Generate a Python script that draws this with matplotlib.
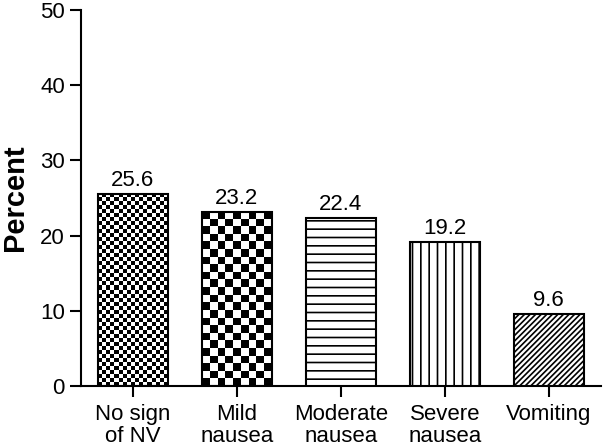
#!/usr/bin/env python3
"""Nausea/vomiting severity distribution, patterned bar chart."""

import numpy as np
import matplotlib
matplotlib.use("Agg")
import matplotlib.pyplot as plt

categories = ["No sign\nof NV", "Mild\nnausea", "Moderate\nnausea", "Severe\nnausea", "Vomiting"]
percent = [25.6, 23.2, 22.4, 19.2, 9.6]
value_labels = ["25.6", "23.2", "22.4", "19.2", "9.6"]
y_ticks = [0, 10, 20, 30, 40, 50]

plt.rcParams["font.family"] = ["Liberation Sans", "DejaVu Sans"]
plt.rcParams["hatch.linewidth"] = 1.2
plt.rcParams["hatch.color"] = "black"


def checker_fill(ax, bar, cell_px):
    # checkerboard image clipped to the bar patch
    x0, y0 = bar.get_x(), bar.get_y()
    w, h = bar.get_width(), bar.get_height()
    p0 = ax.transData.transform((x0, y0))
    p1 = ax.transData.transform((x0 + w, y0 + h))
    nx = max(1, int(round(abs(p1[0] - p0[0]) / cell_px)))
    ny = max(1, int(round(abs(p1[1] - p0[1]) / cell_px)))
    grid = (np.add.outer(np.arange(ny), np.arange(nx)) % 2).astype(float)
    im = ax.imshow(grid, cmap="gray", vmin=0, vmax=1, interpolation="nearest",
                   extent=(x0, x0 + w, y0 + h, y0), aspect="auto", zorder=2)
    im.set_clip_path(bar)


def main():
    fig = plt.figure(figsize=(6.08, 4.47), dpi=100)
    ax = fig.add_axes([0.133, 0.1365, 0.855, 0.841])

    x = np.arange(len(categories))
    ax.set_xlim(-0.5, 4.5)
    ax.set_ylim(0, 50)

    hatches = [None, None, "--", "||", "//////"]
    bars = ax.bar(x, percent, width=0.67, color="white", edgecolor="black",
                  linewidth=1.5, zorder=3)
    for b, h in zip(bars, hatches):
        if h:
            b.set_hatch(h)
    # transparent face for checker bars so the image shows through
    for b in bars[:2]:
        b.set_facecolor("none")

    checker_fill(ax, bars[0], 4.0)
    checker_fill(ax, bars[1], 7.7)

    for xi, v, lab in zip(x, percent, value_labels):
        ax.annotate(lab, (xi, v), xytext=(0, 2), textcoords="offset points",
                    ha="center", va="bottom", fontsize=16)

    ax.set_xticks(x)
    ax.set_xticklabels(categories, fontsize=16, linespacing=1.05)
    ax.set_yticks(y_ticks)
    ax.tick_params(axis="y", labelsize=16, length=8, width=1.5, direction="out")
    ax.tick_params(axis="x", length=8, width=1.5, direction="out", pad=5)
    ax.set_ylabel("Percent", fontsize=21, fontweight="bold", labelpad=8)

    for side in ("top", "right"):
        ax.spines[side].set_visible(False)
    for side in ("left", "bottom"):
        ax.spines[side].set_linewidth(1.5)

    fig.savefig("out.png", dpi=100)


if __name__ == "__main__":
    main()
